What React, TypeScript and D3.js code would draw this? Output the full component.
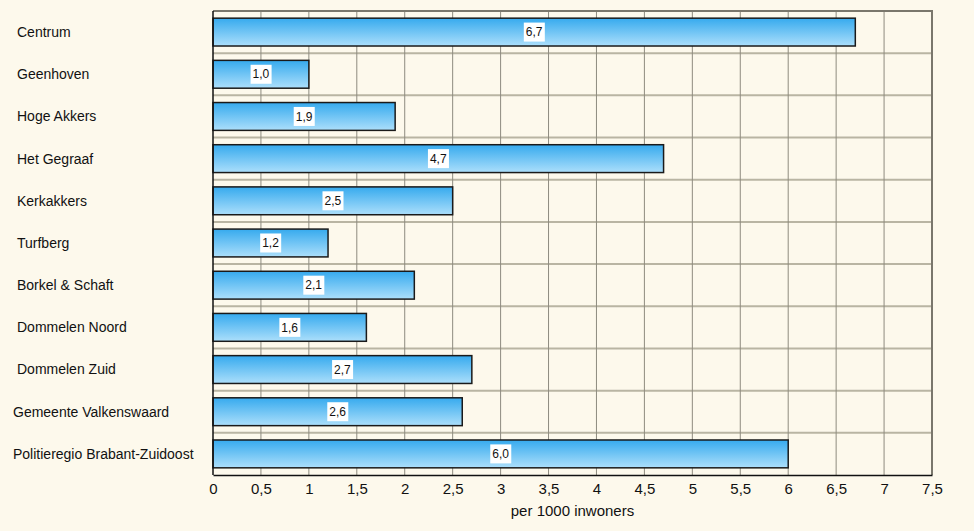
import React, { useEffect, useRef } from "react";
import * as d3 from "d3";

const categories = [
  "Centrum",
  "Geenhoven",
  "Hoge Akkers",
  "Het Gegraaf",
  "Kerkakkers",
  "Turfberg",
  "Borkel & Schaft",
  "Dommelen Noord",
  "Dommelen Zuid",
  "Gemeente Valkenswaard",
  "Politieregio Brabant-Zuidoost",
];
const values = [6.7, 1.0, 1.9, 4.7, 2.5, 1.2, 2.1, 1.6, 2.7, 2.6, 6.0];
const xTicks = [0, 0.5, 1, 1.5, 2, 2.5, 3, 3.5, 4, 4.5, 5, 5.5, 6, 6.5, 7, 7.5];
const xTitle = "per 1000 inwoners";

const fmt = (v: number, digits: number) =>
  (digits ? v.toFixed(digits) : String(v)).replace(".", ",");

const App = () => {
  const svgRef = useRef<SVGSVGElement>(null);

  useEffect(() => {
    const width = 974;
    const height = 531;
    const left = 213;
    const right = 932;
    const top = 11;
    const bottom = 475;
    const font = "Arial, 'Liberation Sans', sans-serif";

    const svg = d3.select(svgRef.current);
    svg.selectAll("*").remove();
    svg.attr("width", width).attr("height", height);

    const defs = svg.append("defs");
    const grad = defs
      .append("linearGradient")
      .attr("id", "barGrad")
      .attr("x1", 0)
      .attr("y1", 0)
      .attr("x2", 0)
      .attr("y2", 1);
    grad.append("stop").attr("offset", "0%").attr("stop-color", "#36aaee");
    grad.append("stop").attr("offset", "100%").attr("stop-color", "#acdffb");

    svg
      .append("rect")
      .attr("width", width)
      .attr("height", height)
      .attr("fill", "#fdf9ec");

    const x = d3.scaleLinear().domain([0, 7.5]).range([left, right]);
    const y = d3
      .scaleBand()
      .domain(categories)
      .range([top, bottom])
      .paddingInner(0.34)
      .paddingOuter(0.17);

    // horizontal grid at band boundaries
    const step = y.step();
    svg
      .append("g")
      .selectAll("line")
      .data(categories.slice(1))
      .enter()
      .append("line")
      .attr("x1", left)
      .attr("x2", right)
      .attr("y1", (_, i) => top + step * (i + 1))
      .attr("y2", (_, i) => top + step * (i + 1))
      .attr("stroke", "#b9b5a3")
      .attr("stroke-width", 2);

    // vertical grid
    svg
      .append("g")
      .selectAll("line")
      .data(xTicks.slice(1, -1))
      .enter()
      .append("line")
      .attr("x1", (d) => x(d))
      .attr("x2", (d) => x(d))
      .attr("y1", top)
      .attr("y2", bottom)
      .attr("stroke", "#8e8b7f")
      .attr("stroke-width", 1);

    // top and right border
    svg
      .append("path")
      .attr("d", `M${left},${top}H${right}V${bottom}`)
      .attr("fill", "none")
      .attr("stroke", "#7a776c")
      .attr("stroke-width", 2);

    // bars
    const bars = svg
      .append("g")
      .selectAll("g")
      .data(values)
      .enter()
      .append("g");

    bars
      .append("rect")
      .attr("x", x(0))
      .attr("y", (_, i) => y(categories[i])!)
      .attr("width", (d) => x(d) - x(0))
      .attr("height", y.bandwidth())
      .attr("fill", "url(#barGrad)")
      .attr("stroke", "#1a1a1a")
      .attr("stroke-width", 1.5);

    // value labels
    bars.each(function (d, i) {
      const g = d3.select(this);
      const cx = (x(0) + x(d)) / 2;
      const cy = y(categories[i])! + y.bandwidth() / 2;
      const t = g
        .append("text")
        .attr("x", cx)
        .attr("y", cy)
        .attr("dy", "0.35em")
        .attr("text-anchor", "middle")
        .attr("font-family", font)
        .attr("font-size", 12)
        .attr("fill", "#111")
        .text(fmt(d, 1));
      const bb = (t.node() as SVGTextElement).getBBox();
      g.insert("rect", "text")
        .attr("x", bb.x - 2)
        .attr("y", cy - 9.5)
        .attr("width", bb.width + 4)
        .attr("height", 19)
        .attr("fill", "#ffffff");
    });

    // left axis line
    svg
      .append("line")
      .attr("x1", left)
      .attr("x2", left)
      .attr("y1", top)
      .attr("y2", bottom)
      .attr("stroke", "#111")
      .attr("stroke-width", 1.5);

    // category labels
    svg
      .append("g")
      .selectAll("text")
      .data(categories)
      .enter()
      .append("text")
      .attr("x", (d) => (d.length > 20 ? 13 : 17))
      .attr("y", (d) => y(d)! + y.bandwidth() / 2)
      .attr("dy", "0.35em")
      .attr("font-family", font)
      .attr("font-size", 14)
      .attr("fill", "#111")
      .text((d) => d);

    // bottom axis
    const axis = svg
      .append("g")
      .attr("transform", `translate(0,${bottom})`)
      .call(
        d3
          .axisBottom(x)
          .tickValues(xTicks)
          .tickSize(0)
          .tickPadding(8)
          .tickFormat((d) => fmt(d as number, 0))
      );
    axis.select(".domain").attr("stroke", "#111").attr("stroke-width", 1.5);
    axis
      .selectAll("text")
      .attr("font-family", font)
      .attr("font-size", 15)
      .attr("fill", "#111");

    svg
      .append("text")
      .attr("x", (left + right) / 2)
      .attr("y", 516)
      .attr("text-anchor", "middle")
      .attr("font-family", font)
      .attr("font-size", 15)
      .attr("fill", "#111")
      .text(xTitle);
  }, []);

  return (
    <svg
      ref={svgRef}
      style={{ position: "absolute", left: 0, top: 0, display: "block" }}
    />
  );
};

export default App;
